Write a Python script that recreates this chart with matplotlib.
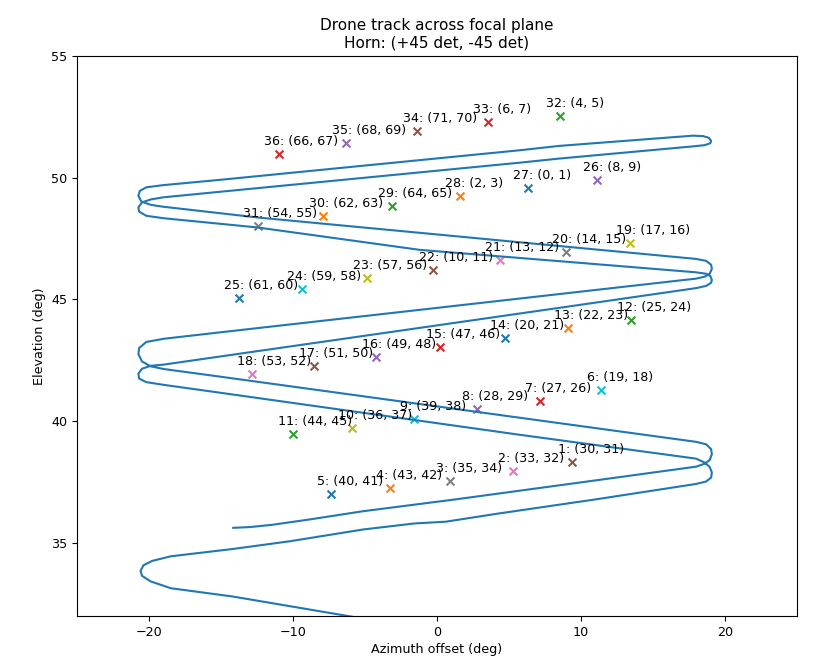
import matplotlib
matplotlib.use("Agg")
import matplotlib.pyplot as plt

plt.rcParams["font.size"] = 9.2

# drone track (azimuth offset, elevation), up and back down
trk_az = [-4.0, -14.2, -18.5, -19.9, -20.5, -20.6, -20.4, -19.8, -18.5, -14.2,
          -10.2, -5.15, -1.55, 0.6, 4.2, 11.06, 18.0, 18.7, 19.05, 19.1,
          18.95, 18.6, 18.0, 5.74, -15.0, -19.0, -20.2, -20.7, -20.75, -20.5,
          -19.9, -19.0, -1.18, 9.9, 18.0, 18.7, 19.05, 19.1, 19.0, 18.7,
          18.0, 9.9, -1.18, -12.46, -19.0, -20.2, -20.7, -20.75, -20.5, -19.9,
          -19.0, -15.0, 5.74, 8.51, 17.8, 18.6, 19.0, 19.05, 18.9, 18.5,
          17.8, 8.51, 5.74, -15.0, -19.0, -20.2, -20.65, -20.75, -20.55, -19.9,
          -19.0, -12.46, -1.18, 9.9, 18.0, 18.7, 19.05, 19.1, 18.95, 18.6,
          18.0, 9.9, -1.18, -15.0, -19.0, -20.2, -20.7, -20.75, -20.5, -19.9,
          -19.0, -15.0, 5.74, 18.0, 18.7, 19.05, 19.1, 18.95, 18.6, 18.0,
          11.06, 1.33, -5.15, -9.0, -11.5, -13.0, -14.16]
trk_el = [31.78, 32.8, 33.14, 33.42, 33.65, 33.85, 34.08, 34.26, 34.45, 34.75,
          35.07, 35.55, 35.8, 35.87, 36.2, 36.79, 37.42, 37.52, 37.68, 37.9,
          38.12, 38.3, 38.46, 39.44, 41.16, 41.49, 41.6, 41.75, 41.95, 42.15,
          42.27, 42.32, 43.83, 44.77, 45.46, 45.55, 45.68, 45.8, 45.95, 46.05,
          46.11, 46.5, 47.03, 47.95, 48.33, 48.43, 48.6, 48.78, 48.98, 49.1,
          49.19, 49.42, 50.61, 50.78, 51.28, 51.33, 51.41, 51.5, 51.63, 51.7,
          51.72, 51.3, 51.12, 49.91, 49.69, 49.6, 49.45, 49.25, 49.02, 48.88,
          48.8, 48.36, 47.73, 47.11, 46.66, 46.58, 46.42, 46.25, 46.05, 45.93,
          45.85, 45.31, 44.57, 43.65, 43.38, 43.25, 43.0, 42.75, 42.45, 42.25,
          42.14, 41.82, 40.14, 39.15, 39.05, 38.85, 38.64, 38.4, 38.25, 38.13,
          37.57, 36.79, 36.3, 35.95, 35.74, 35.65, 35.62]

# horn positions, labelled 1..36 with detector pair
horn_az = [9.41, 5.26, 0.90, -3.25, -7.34, 11.42, 7.13, 2.77, -1.59, -5.88,
           -10.03, 13.49, 9.13, 4.71, 0.21, -4.22, -8.58, -12.87, 13.43, 9.0,
           4.36, -0.28, -4.84, -9.41, -13.77, 11.14, 6.30, 1.59, -3.11, -7.89,
           -12.46, 8.58, 3.53, -1.38, -6.30, -11.0]
horn_el = [38.33, 37.96, 37.55, 37.26, 37.01, 41.28, 40.83, 40.5, 40.09, 39.72,
           39.48, 44.16, 43.83, 43.42, 43.05, 42.64, 42.27, 41.94, 47.32, 46.95,
           46.62, 46.21, 45.88, 45.43, 45.06, 49.91, 49.58, 49.25, 48.84, 48.43,
           48.02, 52.54, 52.29, 51.92, 51.43, 50.98]
det_a = [30, 33, 35, 43, 40, 19, 27, 28, 39, 36, 44, 25, 22, 20, 47, 49, 51, 53,
         17, 14, 13, 10, 57, 59, 61, 8, 0, 2, 64, 62, 54, 4, 6, 71, 68, 66]
det_b = [31, 32, 34, 42, 41, 18, 26, 29, 38, 37, 45, 24, 23, 21, 46, 48, 50, 52,
         16, 15, 12, 11, 56, 58, 60, 9, 1, 3, 65, 63, 55, 5, 7, 70, 69, 67]

fig, ax = plt.subplots(figsize=(8.13, 6.56), dpi=100)
fig.subplots_adjust(left=0.095, right=0.98, top=0.915, bottom=0.061)

ax.plot(trk_az, trk_el, color="C0", lw=1.5)

# one scatter per horn, in detector order so colours cycle like the original
order = sorted(range(len(horn_az)), key=lambda k: min(det_a[k], det_b[k]))
for k in order:
    ax.scatter(horn_az[k], horn_el[k], marker="x", s=32)
    ax.text(horn_az[k] - 1.0, horn_el[k] + 0.35,
            f"{k + 1}: ({det_a[k]}, {det_b[k]})", fontsize=9.1)

ax.set_xlim(-25, 25)
ax.set_ylim(32, 55)
ax.set_xlabel("Azimuth offset (deg)", labelpad=3)
ax.set_ylabel("Elevation (deg)")
ax.set_title("Drone track across focal plane\nHorn: (+45 det, -45 det)", fontsize=11)

plt.savefig("out.png")
